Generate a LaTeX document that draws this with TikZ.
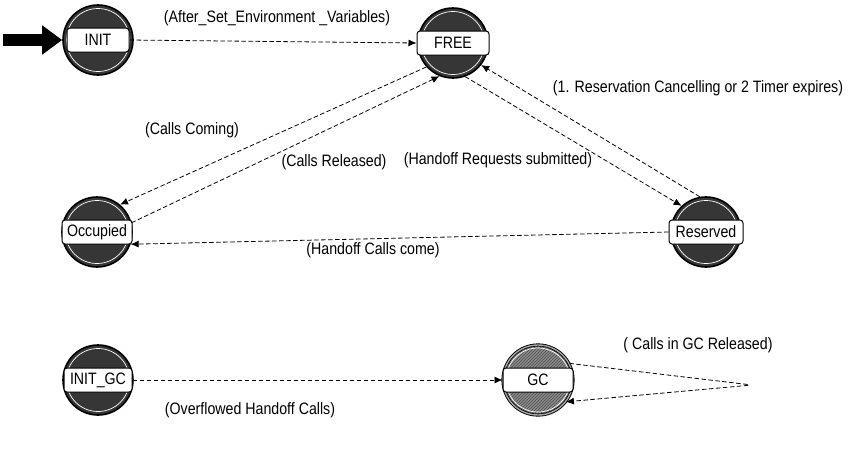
\documentclass[tikz,border=0pt]{standalone}
\usepackage{fontspec}
\setmainfont{Liberation Sans}[FakeStretch=0.86]
\usetikzlibrary{arrows.meta,patterns}

\definecolor{statefill}{HTML}{363636}
\definecolor{gcfill}{HTML}{8C8C8C}

\begin{document}
\begin{tikzpicture}[x=1pt,y=-1pt,
  every node/.style={font=\fontsize{16.5}{18}\selectfont},
  state/.style={circle, draw=black, line width=1.6pt, fill=statefill,
                minimum size=70pt, inner sep=0pt},
  gcstate/.style={circle, draw=black, double=gray!70, double distance=1.4pt,
                  line width=0.9pt, fill=gcfill, minimum size=70pt, inner sep=0pt},
  lbl/.style={draw=black, line width=1pt, fill=white, rounded corners=3pt,
              minimum height=24pt, inner sep=1.5pt},
  trans/.style={draw=black, line width=0.8pt, dash pattern=on 4.5pt off 2.5pt,
                -{Latex[length=8pt,width=7pt]}},
  tlabel/.style={inner sep=0pt}
]
\useasboundingbox (0,0) rectangle (848,450);

% ---- states ----
\node[state] (init) at (98,40) {};
\node[state] (free) at (453,43) {};
\node[state] (occ) at (97,232) {};
\node[state] (res) at (706,232) {};
\node[state] (initgc) at (98,380) {};
\node[gcstate] (gc) at (538,380) {};
\fill[pattern=north east lines, pattern color=black!70] (gc.center) circle (34pt);

% thin inner rings
\foreach \s in {init,free,occ,res,initgc}
  \draw[white, line width=0.7pt] (\s.center) circle (31.5pt);
\draw[white, line width=0.7pt] (gc.center) circle (32pt);

% name plates
\node[lbl, minimum width=62pt] (init-l) at (init.center) {INIT};
\node[lbl, minimum width=72pt] (free-l) at (free.center) {FREE};
\node[lbl, minimum width=70pt] (occ-l) at (occ.center) {Occupied};
\node[lbl, minimum width=74pt] (res-l) at (res.center) {Reserved};
\node[lbl, minimum width=68pt] (initgc-l) at (initgc.center) {INIT\_GC};
\node[lbl, minimum width=70pt] (gc-l) at (gc.center) {GC};

% ---- start marker ----
\coordinate (start) at (3,40);
\draw[line width=12pt, -{Triangle[length=20pt,width=28pt]}] (start) -- (init.west);

% ---- transitions ----
\draw[trans] (init-l.east) -- (free-l.west);
\draw[trans] (free.222) -- (occ.50);
\draw[trans] (occ.15) -- (free.248);
\draw[trans] (free.290) -- (res.133);
\draw[trans] (res.100) -- (free.322);
\draw[trans] (res-l.west) -- (occ.-20);
\draw[trans] (initgc-l.east) -- (gc-l.west);
\coordinate (tip) at (752,385);
\draw[trans, rounded corners=5pt] (gc.28) -- (tip) -- (gc.-38);

% ---- transition labels ----
\node[tlabel] (l1) at (277,18) {(After\_Set\_Environment \_Variables)};
\node[tlabel] (l2) at (698,88) {(1. Reservation Cancelling or 2 Timer expires)};
\node[tlabel] (l3) at (192,130) {(Calls Coming)};
\node[tlabel] (l4) at (334,162) {(Calls Released)};
\node[tlabel] (l5) at (498,160) {(Handoff Requests submitted)};
\node[tlabel] (l6) at (373,250) {(Handoff Calls come)};
\node[tlabel] (l7) at (698,345) {( Calls in GC Released)};
\node[tlabel] (l8) at (250,410) {(Overflowed Handoff Calls)};
\end{tikzpicture}
\end{document}
